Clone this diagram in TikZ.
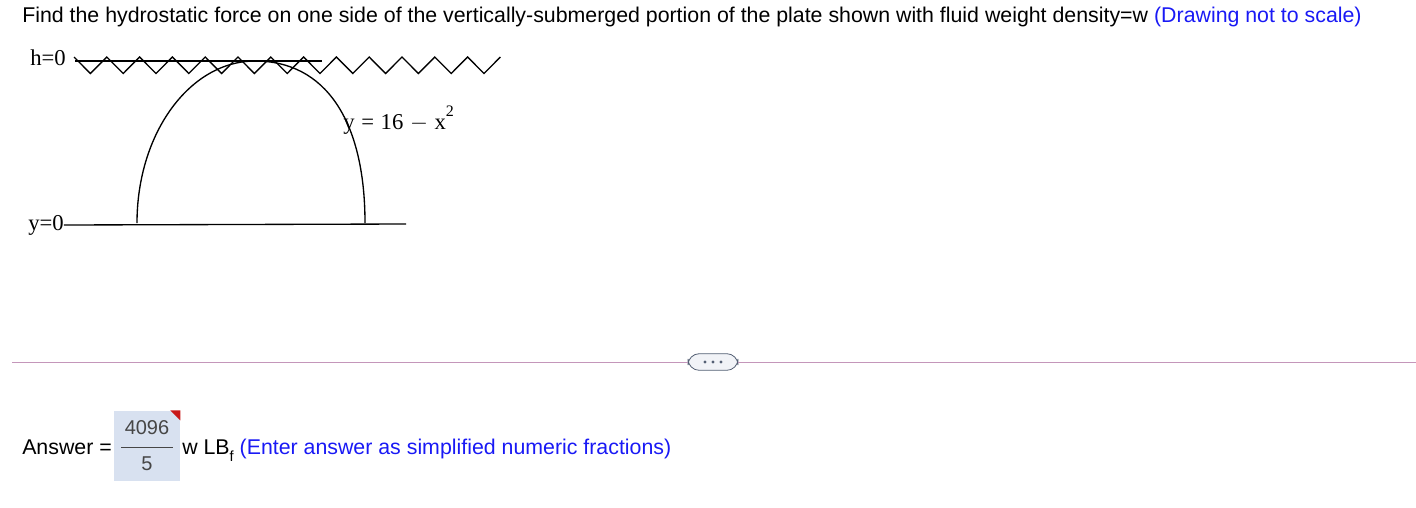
\documentclass[tikz,border=0pt]{standalone}
\usepackage{xcolor}
\usepackage{fontspec}
\setmainfont{Liberation Serif}
\newfontfamily\uifont{Liberation Sans}
\usepackage{tikz}
\usetikzlibrary{shapes, arrows}

\definecolor{linkblue}{RGB}{25,25,245}
\definecolor{seppink}{RGB}{196,150,186}
\definecolor{boxblue}{RGB}{216,225,240}
\definecolor{btnfill}{RGB}{241,243,247}
\definecolor{btnedge}{RGB}{84,96,116}
\definecolor{numgray}{RGB}{70,70,70}
\definecolor{flagred}{RGB}{200,24,24}

\tikzset{
  uitext/.style={anchor=west, inner sep=0pt, font=\uifont\fontsize{16}{19}\selectfont},
  mathlbl/.style={anchor=west, inner sep=0pt, font=\fontsize{17}{20}\selectfont},
  plate/.style={line width=1pt},
}

\begin{document}
\begin{tikzpicture}[x=0.75pt,y=0.75pt,yscale=-1,xscale=1]
\useasboundingbox (0,0) rectangle (1416,507);

% Text Node
\node (title) [uitext] at (22,17) {Find the hydrostatic force on one side of the vertically-submerged portion of the plate shown with fluid weight density=w \textcolor{linkblue}{(Drawing not to scale)}};

% Text Node
\node (hzero) [mathlbl] at (30,58) {h=0};
% Text Node
\node (yzero) [mathlbl] at (28,225) {y=0};
% Text Node
\node (curve) [mathlbl, anchor=base west] at (343,129.5) {y\hspace{5pt}=\hspace{5pt}16\hspace{5pt}$-$\hspace{5pt}x\raisebox{1.25ex}{\fontsize{12}{14}\selectfont 2}};

%Zigzag water surface
\coordinate (waveL) at (74,57);
\draw [plate] (waveL) \foreach \i in {1,...,13} { -- ++(16.4,16.5) -- ++(16.4,-16.5) };

%Straight Lines
\coordinate (surfL) at (75,61);
\coordinate (surfR) at (322,61);
\draw [plate] (surfL) -- (surfR);
%Straight Lines
\coordinate (baseR) at (406,224);
\draw [plate] (yzero.east) -- (baseR);

%Curve Lines
\coordinate (footL) at (137,223);
\coordinate (crown) at (255,61);
\coordinate (footR) at (365,223);
\draw [plate] (footL) .. controls (137,133) and (190,61) .. (crown) .. controls (325,61) and (365,120) .. (footR);

%Separator with button
\node (more) [draw=btnedge, fill=btnfill, rounded corners=8.5, minimum width=37.5pt, minimum height=12.5pt, inner sep=0pt, line width=0.6pt] at (713,362) {};
\foreach \dx in {-8,0,8}
  \fill [btnedge] ([xshift=\dx*0.75pt]more.center) circle (1.2pt);
\coordinate (sepL) at (12,362);
\coordinate (sepR) at (1416,362);
\draw [seppink, line width=0.75pt] (sepL) -- (more.west);
\draw [seppink, line width=0.75pt] (more.east) -- (sepR);

% Text Node
\node (answer) [uitext, anchor=base west] at (22,454) {Answer =};
%Fraction box
\node (fracbox) [fill=boxblue, minimum width=49.5pt, minimum height=53pt, inner sep=0pt] at (147,446) {};
\fill [flagred] (fracbox.north east) -- ++(-10,0) -- ++(10,10) -- cycle;
\node (numer) [uitext, anchor=center, text=numgray, font=\uifont\fontsize{15}{18}\selectfont] at (147,428) {4096};
\node (denom) [uitext, anchor=center, text=numgray, font=\uifont\fontsize{15}{18}\selectfont] at (147,464) {5};
\coordinate (barL) at (121,447);
\coordinate (barR) at (173,447);
\draw [numgray, line width=0.6pt] (barL) -- (barR);

% Text Node
\node (unit) [uitext, anchor=base west] at (182,454) {w LB\raisebox{-0.7ex}{\fontsize{11}{13}\selectfont f} \textcolor{linkblue}{(Enter answer as simplified numeric fractions)}};

\end{tikzpicture}
\end{document}
